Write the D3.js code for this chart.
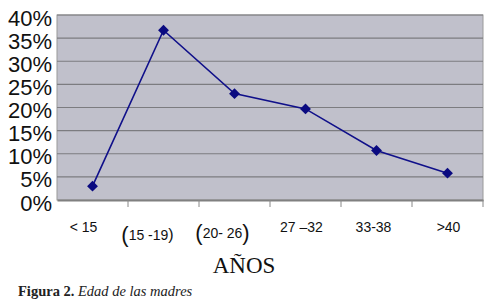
<!DOCTYPE html>
<html>
<head>
<meta charset="utf-8">
<script src="https://cdn.jsdelivr.net/npm/d3@7"></script>
<style>
  html, body { margin: 0; padding: 0; background: #fff; }
  svg { display: block; }
</style>
</head>
<body>
<div id="chart"></div>
<script>
// data
const categories = ['< 15', '(15 -19)', '(20- 26)', '27 \u201332', '33-38', '>40'];
const values = [0.03, 0.367, 0.23, 0.197, 0.107, 0.058];
const yTicks = [0, 0.05, 0.10, 0.15, 0.20, 0.25, 0.30, 0.35, 0.40];

const width = 493, height = 308;
const plot = {left: 57, right: 483, top: 15, bottom: 200};

// hand-tuned label nudges (the original labels are not centred)
const labelShift = [
  {dx: -9, dy: 32},
  {dx: -16, dy: 40},
  {dx: -12, dy: 38},
  {dx: -4, dy: 32},
  {dx: -3, dy: 32},
  {dx: 1, dy: 32}
];

const svg = d3.select('#chart')
  .append('svg')
  .attr('width', width)
  .attr('height', height);

const x = d3.scaleBand()
  .domain(categories)
  .range([plot.left, plot.right])
  .padding(0);

const y = d3.scaleLinear()
  .domain([0, 0.4])
  .range([plot.bottom, plot.top]);

// plot background
svg.append('rect')
  .attr('x', plot.left)
  .attr('y', plot.top)
  .attr('width', plot.right - plot.left)
  .attr('height', plot.bottom - plot.top)
  .attr('fill', '#c0c0cb')
  .attr('stroke', '#9a9a9a')
  .attr('stroke-width', 1);

// gridlines
svg.append('g')
  .selectAll('line')
  .data(yTicks.filter(d => d > 0))
  .enter()
  .append('line')
  .attr('x1', plot.left)
  .attr('x2', plot.right)
  .attr('y1', d => y(d))
  .attr('y2', d => y(d))
  .attr('stroke', '#7c7c80')
  .attr('stroke-width', 1.2);

// y axis labels
svg.append('g')
  .selectAll('text')
  .data(yTicks)
  .enter()
  .append('text')
  .attr('x', 52)
  .attr('y', d => y(d) + 10.5)
  .attr('text-anchor', 'end')
  .attr('font-family', 'Liberation Sans, Arial, sans-serif')
  .attr('font-size', 22)
  .attr('fill', '#111')
  .text(d => Math.round(d * 100) + '%');

// x axis: line + ticks at band edges
const xAxis = svg.append('g')
  .attr('transform', 'translate(0,' + plot.bottom + ')')
  .call(d3.axisBottom(x).tickSize(0).tickFormat(''));
xAxis.select('.domain').attr('stroke', '#808080').attr('stroke-width', 2);

const edges = categories.map(c => x(c)).slice(1).concat([plot.right]);
svg.append('g')
  .selectAll('line')
  .data(edges)
  .enter()
  .append('line')
  .attr('x1', d => d)
  .attr('x2', d => d)
  .attr('y1', plot.bottom)
  .attr('y2', plot.bottom + 7)
  .attr('stroke', '#888')
  .attr('stroke-width', 1);

// category labels, parentheses drawn larger like the original
const labels = svg.append('g')
  .attr('font-family', 'Liberation Sans, Arial, sans-serif')
  .attr('fill', '#111');

categories.forEach((c, i) => {
  const t = labels.append('text')
    .attr('x', x(c) + x.bandwidth() / 2 + labelShift[i].dx)
    .attr('y', plot.bottom + labelShift[i].dy)
    .attr('text-anchor', 'middle')
    .attr('font-size', 14);
  const m = c.match(/^\((.*)\)$/);
  if (m) {
    t.append('tspan').attr('font-size', 22).attr('dy', 2).text('(');
    t.append('tspan').attr('dy', -2).text(m[1]);
    t.append('tspan').attr('font-size', i === 2 ? 22 : 16).attr('dy', i === 2 ? 2 : 0).text(')');
  } else {
    t.text(c);
  }
});

// axis title
svg.append('text')
  .attr('x', 244)
  .attr('y', 273)
  .attr('text-anchor', 'middle')
  .attr('font-family', 'Liberation Serif, Times New Roman, serif')
  .attr('font-size', 23)
  .attr('fill', '#111')
  .text('AÑOS');

// the line
const line = d3.line()
  .x((d, i) => x(categories[i]) + x.bandwidth() / 2)
  .y(d => y(d));

svg.append('path')
  .datum(values)
  .attr('d', line)
  .attr('fill', 'none')
  .attr('stroke', '#10108a')
  .attr('stroke-width', 1.6);

// diamond markers
svg.append('g')
  .selectAll('path')
  .data(values)
  .enter()
  .append('path')
  .attr('transform', (d, i) => 'translate(' + (x(categories[i]) + x.bandwidth() / 2) + ',' + y(d) + ')')
  .attr('d', d3.symbol().type(d3.symbolDiamond2).size(75))
  .attr('fill', '#0a0a80');

// caption
const cap = svg.append('text')
  .attr('x', 18)
  .attr('y', 296)
  .attr('font-family', 'Liberation Serif, Times New Roman, serif')
  .attr('font-size', 14.5)
  .attr('fill', '#222');
cap.append('tspan').attr('font-weight', 'bold').text('Figura 2.');
cap.append('tspan').attr('font-style', 'italic').text(' Edad de las madres');
</script>
</body>
</html>
